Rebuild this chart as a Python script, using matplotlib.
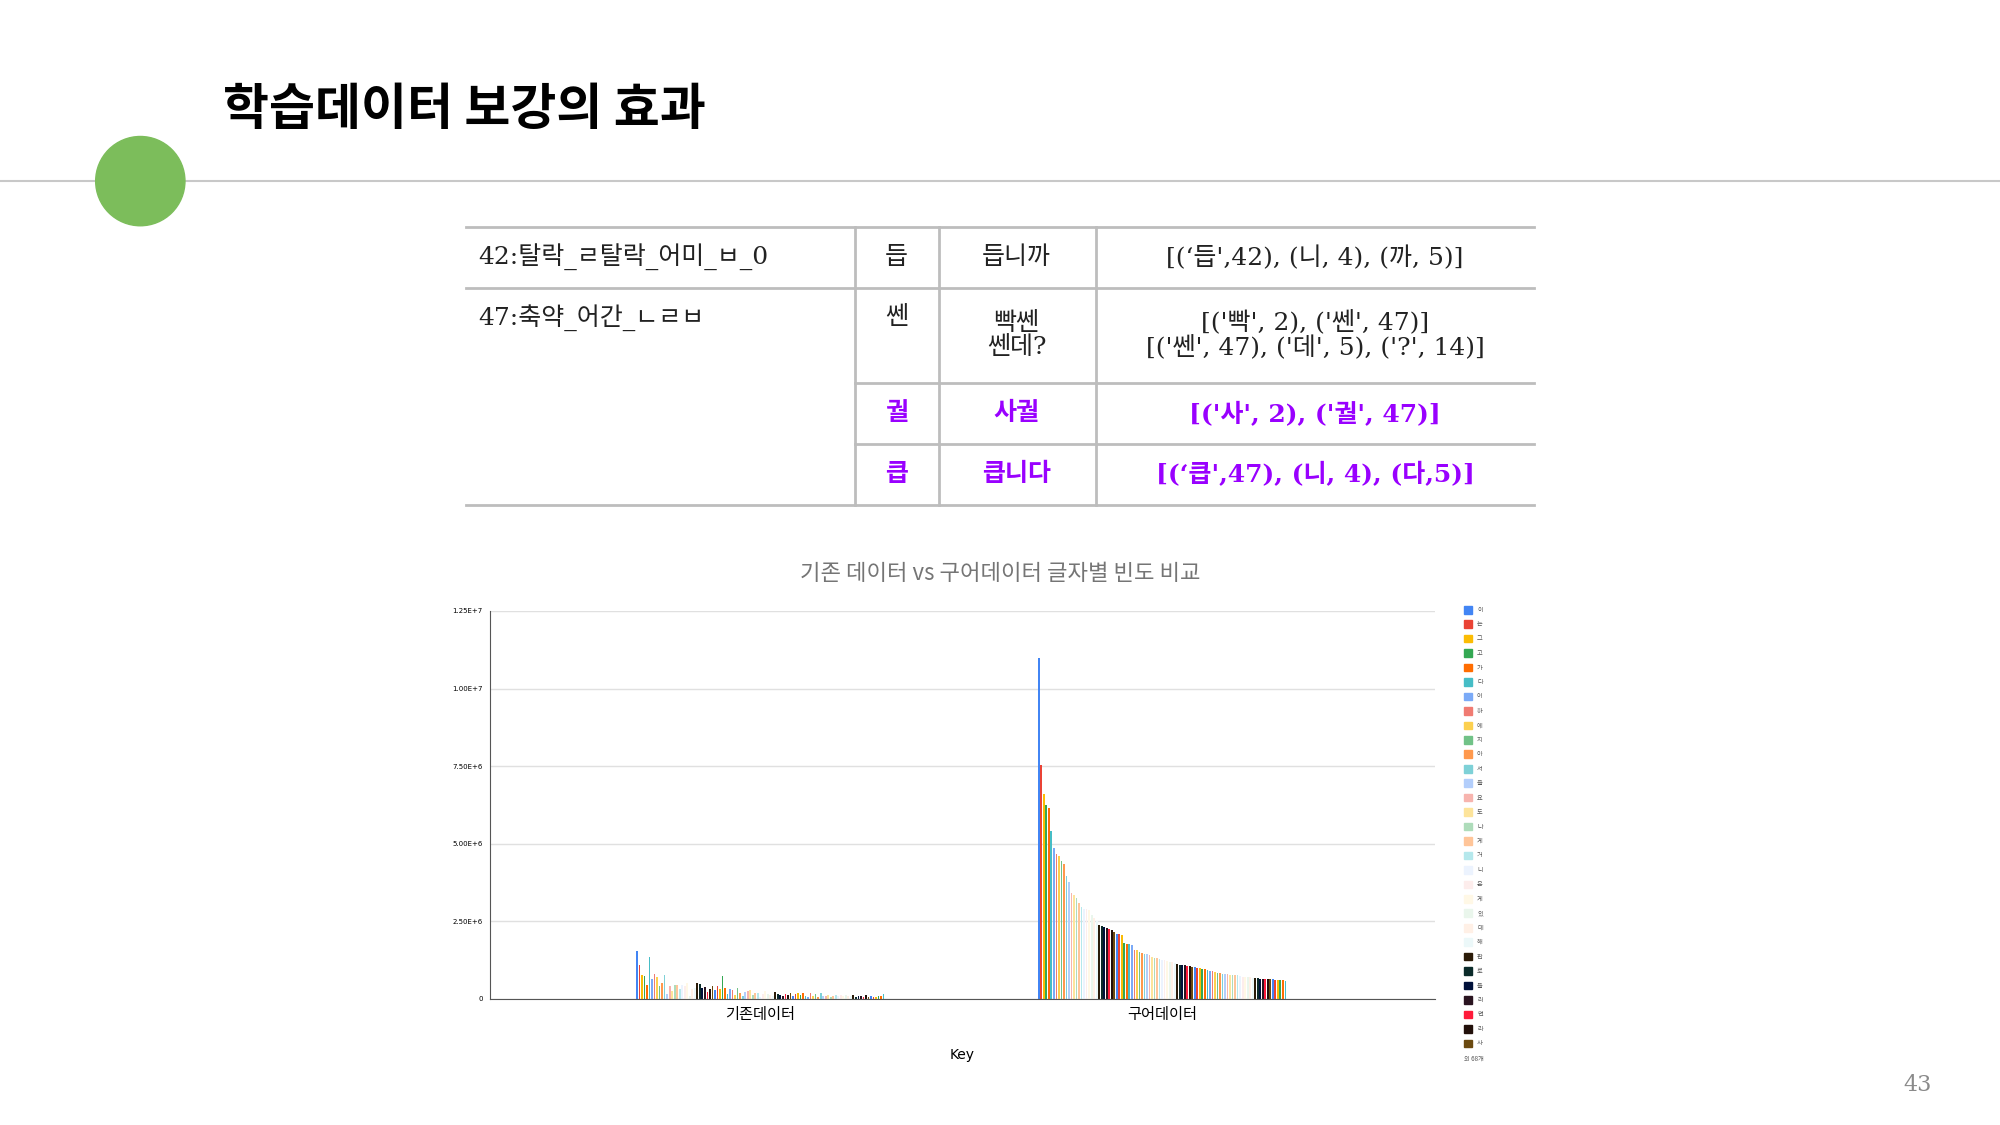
import matplotlib
matplotlib.use("Agg")
import numpy as np
from matplotlib import pyplot as plt
from matplotlib.patches import Ellipse, Rectangle

plt.rcParams['font.family'] = ['Noto Sans CJK KR', 'DejaVu Sans']
SERIF = ['DejaVu Serif', 'Noto Sans CJK KR']

W, H = 1568, 882  # layout reference units


def fx(x):
    return x / W


def fy(y):
    return 1 - y / H


categories = ['기존데이터', '구어데이터']

# values in millions, one per series (99 characters)
base_values = [1.55, 1.1, 0.75, 0.72, 0.45, 1.35, 0.62, 0.8, 0.7, 0.4, 0.5, 0.75, 0.15, 0.4, 0.25, 0.45,
               0.45, 0.3, 0.45, 0.4, 0.5, 0.1, 0.3, 0.35,
               0.52, 0.48, 0.35, 0.38, 0.22, 0.3, 0.42, 0.28, 0.42, 0.3,
               0.72, 0.35, 0.15, 0.3, 0.28, 0.12, 0.35, 0.2, 0.08, 0.22,
               0.25, 0.28, 0.12, 0.18, 0.2, 0.05, 0.15, 0.25, 0.15, 0.12,
               0.1, 0.22, 0.15, 0.12, 0.08, 0.15, 0.12, 0.18, 0.1, 0.15,
               0.18, 0.12, 0.2, 0.08, 0.05, 0.18, 0.1, 0.15, 0.05, 0.18,
               0.1, 0.08, 0.12, 0.05, 0.1, 0.12, 0.08, 0.12, 0.1, 0.12,
               0.08, 0.1, 0.12, 0.05, 0.1, 0.08, 0.05, 0.12, 0.05, 0.08,
               0.06, 0.05, 0.08, 0.1, 0.15]
spoken_values = [11.0, 7.55, 6.6, 6.25, 6.15, 5.4, 4.85, 4.65, 4.6, 4.45, 4.35, 3.95, 3.75, 3.4, 3.35, 3.25,
                 3.1, 2.95, 2.9, 2.9, 2.85, 2.7, 2.6, 2.5,
                 2.38, 2.35, 2.32, 2.28, 2.25, 2.22, 2.15, 2.1, 2.08, 2.05,
                 1.8, 1.78, 1.76, 1.72, 1.58, 1.56, 1.52, 1.48, 1.45, 1.43,
                 1.4, 1.34, 1.32, 1.3, 1.28, 1.26, 1.24, 1.22, 1.2, 1.18,
                 1.15, 1.12, 1.1, 1.09, 1.08, 1.06, 1.05, 1.03, 1.02, 1.0,
                 0.98, 0.96, 0.95, 0.93, 0.9, 0.88, 0.86, 0.84, 0.82, 0.81,
                 0.8, 0.79, 0.78, 0.78, 0.77, 0.76, 0.72, 0.71, 0.7, 0.7,
                 0.69, 0.68, 0.67, 0.66, 0.65, 0.64, 0.63, 0.63, 0.62, 0.62,
                 0.61, 0.6, 0.6, 0.59, 0.58]

legend_labels = ['이', '는', '그', '고', '가', '다', '어', '하', '에', '지', '아', '서', '을', '요', '도', '나',
                 '게', '거', '니', '은', '게', '있', '데', '해', '판', '로', '들', '러', '면', '라', '사']
hidden_count = 68

palette = ['#4285F4', '#EA4335', '#FBBC04', '#34A853', '#FF6D01', '#46BDC6', '#7BAAF7', '#F07B72',
           '#FCD04F', '#71C287', '#FF994D', '#7ED1D7', '#B3CEFB', '#F7B4AE', '#FDE49B', '#AEDCBA',
           '#FFC599', '#B5E8EC', '#ECF3FE', '#FDEDEC', '#FFF8E6', '#EAF6EC', '#FFF0E6', '#ECF8F9',
           '#2B1B08', '#0B2B2A', '#00103A', '#2A1420', '#FF1A3A', '#22100A', '#6B4A10']

table_rows = [
    ('42:탈락_ㄹ탈락_어미_ㅂ_0', '듭', '듭니까', "[(‘듭',42), (니, 4), (까, 5)]", False),
    ('47:축약_어간_ㄴㄹㅂ', '쎈', '빡쎈\n쎈데?', "[('빡', 2), ('쎈', 47)]\n[('쎈', 47), ('데', 5), ('?', 14)]", False),
    ('', '궐', '사궐', "[('사', 2), ('궐', 47)]", True),
    ('', '큽', '큽니다', "[(‘큽',47), (니, 4), (다,5)]", True),
]

fig = plt.figure(figsize=(20, 11.25), dpi=100)

# slide header
fig.text(fx(175), fy(87), '학습데이터 보강의 효과', fontsize=36, fontweight='bold', va='center', ha='left')
fig.add_artist(plt.Line2D([0, 1], [fy(142), fy(142)], color='#c8c8c8', lw=1.5))
fig.add_artist(Ellipse((fx(110), fy(142)), 70 / W, 70 / H, transform=fig.transFigure,
                       color='#7CBD5B', zorder=5))
fig.text(fx(1503), fy(851), '43', fontsize=16, color='#8a8a8a', ha='center', va='center', family=SERIF)

# table
row_lines = [178, 226, 300, 348, 396]
col_lines = [365, 670, 736, 859, 1203]
for i, y in enumerate(row_lines):
    x0 = 365 if i in (0, 1, 4) else 670
    fig.add_artist(plt.Line2D([fx(x0), fx(1203)], [fy(y), fy(y)], color='#bdbdbd', lw=2))
for x in col_lines[1:4]:
    fig.add_artist(plt.Line2D([fx(x), fx(x)], [fy(178), fy(396)], color='#bdbdbd', lw=2))
for r, (c0, c1, c2, c3, hl) in enumerate(table_rows):
    yc = (row_lines[r] + row_lines[r + 1]) / 2
    color = '#9900FF' if hl else '#222222'
    weight = 'bold' if hl else 'normal'
    if c0:
        fig.text(fx(375), fy(row_lines[r] + 23), c0, fontsize=18, va='center', ha='left',
                 family=SERIF, color=color)
    c1_y = row_lines[r] + 23 if r == 1 else yc
    for x_c, txt, yy in ((703, c1, c1_y), (797, c2, yc), (1031, c3, yc)):
        fig.text(fx(x_c), fy(yy), txt, fontsize=18, va='center', ha='center', family=SERIF,
                 color=color, fontweight=weight, linespacing=1.05)

# chart
ax = fig.add_axes([fx(384), fy(783), fx(1125) - fx(384), fy(479) - fy(783)])
n = len(spoken_values)
group_width = 0.62
w = group_width / n
for i in range(n):
    xs = np.arange(len(categories)) + (i - (n - 1) / 2) * w
    ax.bar(xs, [base_values[i], spoken_values[i]], width=w * 0.7, color=palette[i % len(palette)])
ax.set_xlim(-0.673, 1.679)
ax.set_ylim(0, 12.5)
ax.set_yticks([0, 2.5, 5, 7.5, 10, 12.5])
ax.set_yticklabels(['0', '2.50E+6', '5.00E+6', '7.50E+6', '1.00E+7', '1.25E+7'], fontsize=5,
                   family='DejaVu Sans')
ax.set_xticks(range(len(categories)))
ax.set_xticklabels(categories, fontsize=11)
ax.tick_params(length=0, pad=5)
ax.grid(axis='y', color='#e0e0e0', lw=1)
ax.set_axisbelow(True)
for s in ('top', 'right'):
    ax.spines[s].set_visible(False)
ax.spines['left'].set_color('#555555')
ax.spines['bottom'].set_color('#555555')
ax.set_xlabel('Key', fontsize=10, labelpad=18, family='DejaVu Sans')
fig.text(fx(784), fy(450), '기존 데이터 vs 구어데이터 글자별 빈도 비교', fontsize=16, color='#757575',
         ha='center', va='center', fontweight='medium')

# legend, drawn as a column of swatches
step = (818 - 478) / (len(legend_labels) - 1)
for k, lab in enumerate(legend_labels):
    y = 478 + k * step
    fig.add_artist(Rectangle((fx(1148), fy(y + 3)), 6 / W, 6 / H, transform=fig.transFigure,
                             color=palette[k]))
    fig.text(fx(1158), fy(y), lab, fontsize=4.5, color='#555555', va='center')
fig.text(fx(1148), fy(830), '외 %d개' % hidden_count, fontsize=4.5, color='#555555', va='center')

fig.savefig('out.png', dpi=100, facecolor='white')
